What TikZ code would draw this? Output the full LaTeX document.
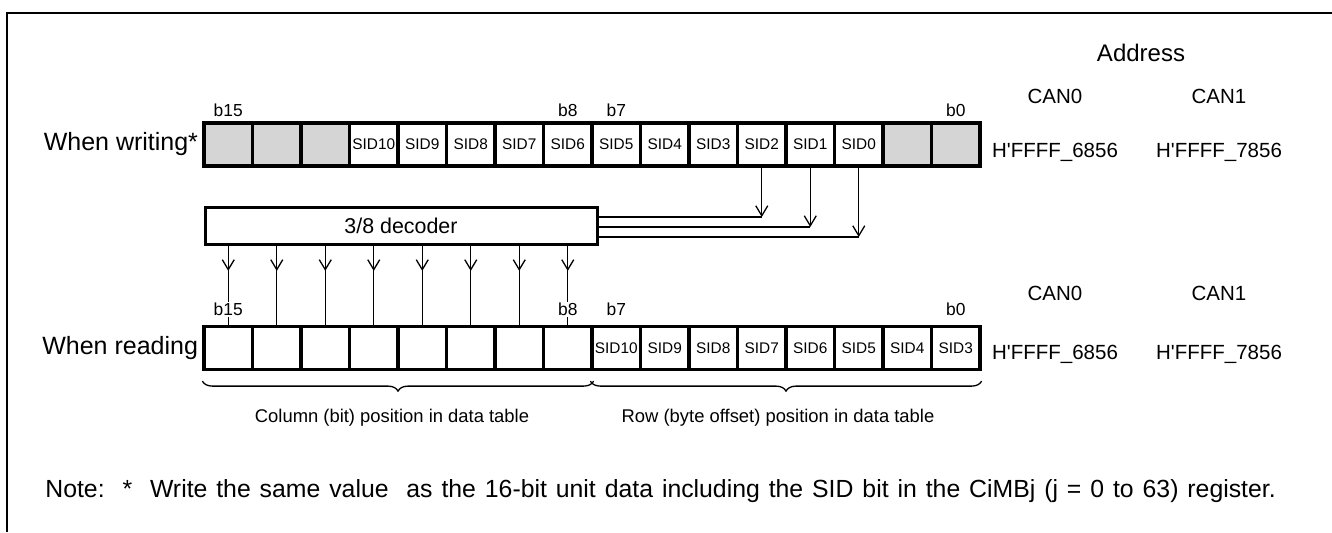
\documentclass[tikz,border=0pt]{standalone}
\usepackage{fontspec}
\setmainfont{Liberation Sans}
\newfontfamily\plainsans{Liberation Sans}
\usepackage{tikz}
\usetikzlibrary{positioning, arrows.meta, calc, decorations.pathreplacing, decorations.markings}
\definecolor{cellgray}{RGB}{212,213,212}

\begin{document}
\begin{tikzpicture}[x=0.5pt, y=-0.5pt,
        cell/.style={rectangle, draw, line width=1.6pt, minimum width=24.25pt, minimum height=21.5pt, inner sep=0pt, font=\fontsize{7.7}{8}\selectfont},
        blank/.style={cell, fill=cellgray},
        bitlabel/.style={inner sep=0pt, font=\fontsize{8.7}{9}\selectfont},
        addr/.style={inner sep=0pt, anchor=base, font=\plainsans\fontsize{10.25}{11}\selectfont},
        rowlabel/.style={inner sep=0pt, font=\fontsize{12.5}{13}\selectfont},
        bracelabel/.style={font=\fontsize{9.2}{10}\selectfont},
        wire/.style={line width=0.65pt},
        tip/.style={wire, -{Straight Barb[length=5pt, width=6pt, line width=0.65pt]}},
        midtip/.style={wire, decoration={markings, mark=at position 0.32 with {\arrow{Straight Barb[length=5pt, width=6pt, line width=0.65pt]}}}, postaction={decorate}}]
    \useasboundingbox (0,0) rectangle (1332,532);
    \draw[line width=1.1pt] (7,532) -- (7,13) -- (1332,13);

    % Register when writing
    \foreach \i/\t/\s in {0//blank, 1//blank, 2//blank, 3/SID10/cell, 4/SID9/cell, 5/SID8/cell, 6/SID7/cell, 7/SID6/cell,
                          8/SID5/cell, 9/SID4/cell, 10/SID3/cell, 11/SID2/cell, 12/SID1/cell, 13/SID0/cell, 14//blank, 15//blank}
        \node[\s] (w\i) at ({204+48.5*(\i+0.5)},144.5) {\t};
    \node[rowlabel, left=2pt of w0] (wlabel) {When writing*};
    \node[bitlabel, above=2.4pt of w0] {b15};
    \node[bitlabel, above=2.4pt of w7] {b8};
    \node[bitlabel, above=2.4pt of w8] {b7};
    \node[bitlabel, above=2.4pt of w15] {b0};

    % Register when reading
    \foreach \i/\t in {0/, 1/, 2/, 3/, 4/, 5/, 6/, 7/,
                       8/SID10, 9/SID9, 10/SID8, 11/SID7, 12/SID6, 13/SID5, 14/SID4, 15/SID3}
        \node[cell] (r\i) at ({204+48.5*(\i+0.5)},348) {\t};
    \node[rowlabel, left=2pt of r0] (rlabel) {When reading};

    % Decoder
    \node[rectangle, draw, line width=1.5pt, minimum width=196pt, minimum height=18.5pt, font=\fontsize{10.7}{11}\selectfont] (dec) at (401,225.5) {3/8 decoder};

    % SID2..SID0 into decoder
    \coordinate (s2) at (w11.south |- 0,217);
    \coordinate (s1) at (w12.south |- 0,227);
    \coordinate (s0) at (w13.south |- 0,237);
    \foreach \c/\n in {s2/w11, s1/w12, s0/w13} {
        \draw[wire] (dec.east |- \c) -- (\c);
        \draw[tip] (\n.south) -- (\c);
    }

    % Decoder outputs
    \foreach \i in {0,...,7}
        \draw[midtip] (dec.south -| r\i.north) -- (r\i.north);
    \node[bitlabel, fill=white, inner sep=0.6pt, above=3.6pt of r0] {b15};
    \node[bitlabel, fill=white, inner sep=0.6pt, above=3.6pt of r7] {b8};
    \node[bitlabel, above=4.2pt of r8] {b7};
    \node[bitlabel, above=4.2pt of r15] {b0};

    % Braces
    \draw[wire, decorate, decoration={brace, mirror, amplitude=5pt}] ([yshift=-5pt]r0.south west) -- ([yshift=-5pt]r7.south east);
    \draw[wire, decorate, decoration={brace, mirror, amplitude=5pt}] ([yshift=-5pt]r8.south west) -- ([yshift=-5pt]r15.south east);
    \node[bracelabel] (col) at (392,418) {Column (bit) position in data table};
    \node[bracelabel] (row) at (778,418) {Row (byte offset) position in data table};

    % Addresses
    \node[addr, font=\plainsans\fontsize{12}{13}\selectfont] (address) at (1141,61) {Address};
    \node[addr] (can0w) at (1055,103) {CAN0};
    \node[addr] (can1w) at (1219,103) {CAN1};
    \node[addr] (adr0w) at (1055,157) {H'FFFF\_6856};
    \node[addr] (adr1w) at (1219,157) {H'FFFF\_7856};
    \node[addr] (can0r) at (1055,300) {CAN0};
    \node[addr] (can1r) at (1219,300) {CAN1};
    \node[addr] (adr0r) at (1055,359) {H'FFFF\_6856};
    \node[addr] (adr1r) at (1219,359) {H'FFFF\_7856};

    % Note
    \node[anchor=base west, inner sep=0pt, font=\fontsize{12.4}{13}\selectfont] (note) at (45,497)
        {\spaceskip=0.36em plus 0.1em\relax Note:\ \ *\ \ Write the same value\ \ as the 16-bit unit data including the SID bit in the CiMBj (j = 0 to 63) register.};
\end{tikzpicture}
\end{document}
